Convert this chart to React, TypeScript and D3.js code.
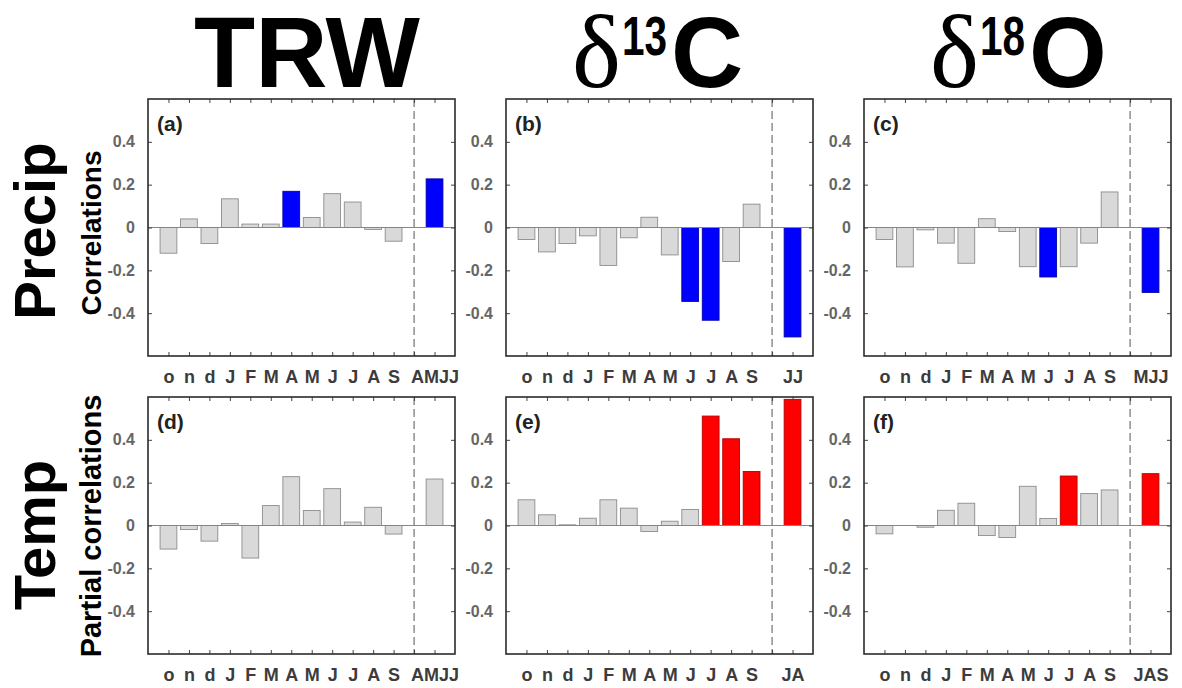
import React, { useEffect, useRef } from "react";
import * as d3 from "d3";

// month labels: previous Oct-Dec (lower case), then current Jan-Sep
const months = ["o", "n", "d", "J", "F", "M", "A", "M", "J", "J", "A", "S"];

// monthly correlations with precipitation
const trwPrecip = [-0.12, 0.04, -0.075, 0.134, 0.016, 0.016, 0.169, 0.047, 0.158, 0.119, -0.009, -0.064];
const c13Precip = [-0.056, -0.114, -0.075, -0.039, -0.177, -0.048, 0.048, -0.128, -0.345, -0.433, -0.159, 0.109];
const o18Precip = [-0.056, -0.184, -0.011, -0.073, -0.167, 0.041, -0.019, -0.183, -0.231, -0.183, -0.073, 0.166];

// monthly partial correlations with temperature
const trwTemp = [-0.11, -0.019, -0.073, 0.009, -0.152, 0.093, 0.228, 0.07, 0.172, 0.016, 0.085, -0.04];
const c13Temp = [0.12, 0.05, 0.003, 0.034, 0.12, 0.081, -0.028, 0.02, 0.075, 0.511, 0.405, 0.252];
const o18Temp = [-0.039, 0, -0.008, 0.071, 0.104, -0.047, -0.056, 0.183, 0.033, 0.231, 0.149, 0.166];

// seasonal window right of the dashed line
const seasonNames = ["AMJJ", "JJ", "MJJ", "AMJJ", "JA", "JAS"];
const seasonValues = [0.227, -0.511, -0.303, 0.217, 0.589, 0.242];
const seasonSig = [true, true, true, false, true, true];

// significant months (index into months)
const sigMonths = [[6], [8, 9], [8], [], [9, 10, 11], [9]];

const panelLetters = ["(a)", "(b)", "(c)", "(d)", "(e)", "(f)"];
const yTicks = [-0.4, -0.2, 0, 0.2, 0.4];

const sans = "'Liberation Sans', Arial, Helvetica, sans-serif";
const serif = "'Liberation Serif', 'Times New Roman', serif";

export default function App() {
  const ref = useRef<SVGSVGElement>(null);

  useEffect(() => {
    const svg = d3.select(ref.current);
    svg.selectAll("*").remove();

    const lefts = [148, 506, 864];
    const tops = [99, 397];
    const pw = 307, ph = 257;
    const series = [trwPrecip, c13Precip, o18Precip, trwTemp, c13Temp, o18Temp];

    series.forEach((vals, i) => {
      const x0 = lefts[i % 3];
      const y0 = tops[Math.floor(i / 3)];
      const sigColor = i < 3 ? "#0000ff" : "#ff0000";
      const sigStroke = i < 3 ? "#0000a8" : "#b40000";

      const x = d3.scaleLinear().domain([0, 15]).range([x0, x0 + pw]);
      const y = d3.scaleLinear().domain([-0.6, 0.6]).range([y0 + ph, y0]);
      const g = svg.append("g");

      const bars = vals
        .map((v, k) => ({ pos: k + 1, v: v, sig: sigMonths[i].includes(k) }))
        .concat([{ pos: 14, v: seasonValues[i], sig: seasonSig[i] }])
        .filter(d => d.v !== 0);

      const bw = x(0.82) - x(0);
      g.selectAll(".bar")
        .data(bars)
        .enter().append("rect")
        .attr("class", "bar")
        .attr("x", d => x(d.pos) - bw / 2)
        .attr("width", bw)
        .attr("y", d => y(Math.max(0, d.v)))
        .attr("height", d => Math.max(0.5, Math.abs(y(d.v) - y(0))))
        .attr("fill", d => (d.sig ? sigColor : "#d9d9d9"))
        .attr("stroke", d => (d.sig ? sigStroke : "#8c8c8c"))
        .attr("stroke-width", 0.9);

      // zero line
      g.append("line")
        .attr("x1", x0).attr("x2", x0 + pw)
        .attr("y1", y(0)).attr("y2", y(0))
        .attr("stroke", "#858585").attr("stroke-width", 1);

      // separator between monthly and seasonal values
      g.append("line")
        .attr("x1", x(13)).attr("x2", x(13))
        .attr("y1", y0).attr("y2", y0 + ph)
        .attr("stroke", "#555").attr("stroke-width", 1)
        .attr("stroke-dasharray", "8,4");

      const xTicks = d3.range(1, 15);

      const left = g.append("g")
        .attr("transform", `translate(${x0},0)`)
        .call(d3.axisLeft(y).tickValues(yTicks).tickSize(-4).tickPadding(13)
          .tickFormat(d => (+d === 0 ? "0" : (+d).toFixed(1))));
      left.selectAll("text")
        .attr("font-family", sans).attr("font-size", 16).attr("font-weight", "bold")
        .attr("fill", "#666");

      g.append("g")
        .attr("transform", `translate(${x0 + pw},0)`)
        .call(d3.axisRight(y).tickValues(yTicks).tickSize(-4).tickFormat(() => ""));

      g.append("g")
        .attr("transform", `translate(0,${y0})`)
        .call(d3.axisTop(x).tickValues(xTicks).tickSize(-4).tickFormat(() => ""));

      const bottom = g.append("g")
        .attr("transform", `translate(0,${y0 + ph})`)
        .call(d3.axisBottom(x).tickValues(xTicks).tickSize(-4).tickPadding(14)
          .tickFormat(d => (+d <= 12 ? months[+d - 1] : +d === 14 ? seasonNames[i] : "")));
      bottom.selectAll("text")
        .attr("font-family", sans).attr("font-size", 18).attr("font-weight", "bold")
        .attr("fill", "#3c3c3c");

      g.selectAll(".domain").remove();
      g.selectAll(".tick line").attr("stroke", "#444").attr("stroke-width", 1);

      // frame
      g.append("rect")
        .attr("x", x0).attr("y", y0).attr("width", pw).attr("height", ph)
        .attr("fill", "none").attr("stroke", "#2b2b2b").attr("stroke-width", 1.6);

      g.append("text")
        .attr("x", x0 + 9).attr("y", y0 + 32)
        .attr("font-family", sans).attr("font-size", 21).attr("font-weight", "bold")
        .attr("fill", "#222")
        .text(panelLetters[i]);
    });

    // column headers
    svg.append("text")
      .attr("x", 307).attr("y", 87).attr("text-anchor", "middle")
      .attr("font-family", sans).attr("font-size", 100).attr("font-weight", "bold")
      .text("TRW");

    const iso = [
      { x: 572, num: "13", el: "C" },
      { x: 930, num: "18", el: "O" }
    ];
    iso.forEach(h => {
      svg.append("text")
        .attr("x", h.x).attr("y", 87)
        .attr("font-family", serif).attr("font-size", 104)
        .text("δ");
      svg.append("text")
        .attr("x", h.x + 50).attr("y", 55)
        .attr("font-family", sans).attr("font-size", 56).attr("font-weight", "bold")
        .attr("textLength", 45).attr("lengthAdjust", "spacingAndGlyphs")
        .text(h.num);
      svg.append("text")
        .attr("x", h.x + 99).attr("y", 87)
        .attr("font-family", sans).attr("font-size", 100).attr("font-weight", "bold")
        .text(h.el);
    });

    // row headers
    const rows = [
      { big: "Precip", small: "Correlations", cy: 231, cs: 233, fs: 28 },
      { big: "Temp", small: "Partial correlations", cy: 535, cs: 526, fs: 29 }
    ];
    rows.forEach(r => {
      svg.append("text")
        .attr("transform", `translate(55,${r.cy}) rotate(-90)`)
        .attr("text-anchor", "middle")
        .attr("font-family", sans).attr("font-size", 58).attr("font-weight", "bold")
        .text(r.big);
      svg.append("text")
        .attr("transform", `translate(101,${r.cs}) rotate(-90)`)
        .attr("text-anchor", "middle")
        .attr("font-family", sans).attr("font-size", r.fs).attr("font-weight", "bold")
        .text(r.small);
    });
  }, []);

  return (
    <svg
      ref={ref}
      width={1182}
      height={688}
      style={{ position: "absolute", left: 0, top: 0, display: "block", background: "#fff" }}
    />
  );
}
